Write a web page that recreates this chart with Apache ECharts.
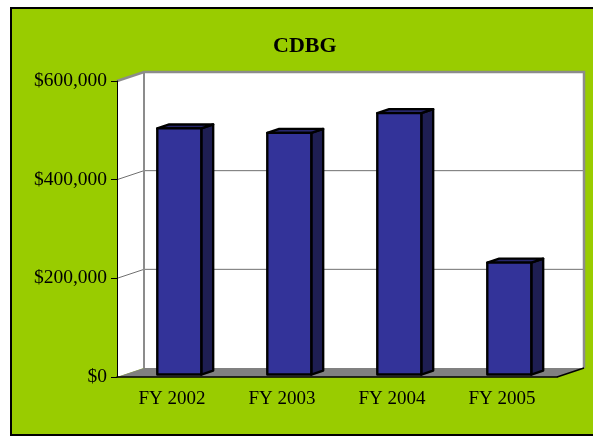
<!DOCTYPE html>
<html>
<head>
<meta charset="utf-8">
<script src="https://cdn.jsdelivr.net/npm/echarts@6/dist/echarts.min.js"></script>
<style>
    html, body {margin: 0; padding: 0; background: #ffffff;}
    #chart {width: 593px; height: 438px;}
</style>
</head>
<body>
<div id="chart"></div>
<script>
    // data
    var categories = ['FY 2002', 'FY 2003', 'FY 2004', 'FY 2005'];
    var funding = [499000, 490000, 530000, 227000];
    var tickValues = [0, 200000, 400000, 600000];

    // 3d look: depth of the walls and where the bars sit in it
    var DX = 27, DY = -9;
    var BAR_FRONT = 0.27, BAR_BACK = 0.71;
    var SERIF = '"Liberation Serif", "Times New Roman", serif';

    var chart = echarts.init(document.getElementById('chart'));

    function renderWalls(params, api) {
        var cs = params.coordSys;
        var x0 = cs.x, x1 = cs.x + cs.width;
        var yTop = api.coord([0, tickValues[tickValues.length - 1]])[1];
        var yBot = api.coord([0, 0])[1];
        var children = [];
        // back wall
        children.push({
            type: 'polygon',
            shape: {points: [[x0 + DX, yTop + DY], [x1 + DX, yTop + DY], [x1 + DX, yBot + DY], [x0 + DX, yBot + DY]]},
            style: {fill: '#ffffff', stroke: null}
        });
        // left wall
        children.push({
            type: 'polygon',
            shape: {points: [[x0, yTop], [x0 + DX, yTop + DY], [x0 + DX, yBot + DY], [x0, yBot]]},
            style: {fill: '#ffffff', stroke: null}
        });
        // grid lines on both walls
        tickValues.slice(1, -1).forEach(function (v) {
            var y = api.coord([0, v])[1];
            children.push({
                type: 'polyline',
                shape: {points: [[x0, y], [x0 + DX, y + DY], [x1 + DX, y + DY]]},
                style: {stroke: '#707070', lineWidth: 1, fill: null}
            });
        });
        // wall edges
        children.push({
            type: 'polyline',
            shape: {points: [[x0, yTop], [x0 + DX, yTop + DY], [x1 + DX, yTop + DY], [x1 + DX, yBot + DY]]},
            style: {stroke: '#8c8c8c', lineWidth: 2.5, fill: null}
        });
        children.push({
            type: 'line',
            shape: {x1: x0 + DX, y1: yTop + DY, x2: x0 + DX, y2: yBot + DY},
            style: {stroke: '#8c8c8c', lineWidth: 2}
        });
        // floor
        children.push({
            type: 'polygon',
            shape: {points: [[x0, yBot], [x0 + DX, yBot + DY], [x1 + DX, yBot + DY], [x1, yBot]]},
            style: {fill: '#808080', stroke: null}
        });
        children.push({
            type: 'line',
            shape: {x1: x1, y1: yBot, x2: x1 + DX, y2: yBot + DY},
            style: {stroke: '#000000', lineWidth: 1.5}
        });
        return {type: 'group', children: children};
    }

    function renderBar(params, api) {
        var base = api.coord([api.value(0), 0]);
        var top = api.coord([api.value(0), api.value(1)]);
        var w = api.size([1, 0])[0] * 0.4;
        var fx = base[0] - w / 2 + DX * BAR_FRONT;
        var fyB = base[1] + DY * BAR_FRONT;
        var fyT = top[1] + DY * BAR_FRONT;
        var ddx = DX * (BAR_BACK - BAR_FRONT);
        var ddy = DY * (BAR_BACK - BAR_FRONT);
        var edge = {stroke: '#000000', lineWidth: 2.4, lineJoin: 'round'};
        return {
            type: 'group',
            children: [
                {
                    type: 'polygon',
                    shape: {points: [[fx + w, fyT], [fx + w + ddx, fyT + ddy], [fx + w + ddx, fyB + ddy], [fx + w, fyB]]},
                    style: Object.assign({fill: '#1e1e52'}, edge)
                },
                {
                    type: 'polygon',
                    shape: {points: [[fx, fyT], [fx + ddx, fyT + ddy], [fx + w + ddx, fyT + ddy], [fx + w, fyT]]},
                    style: Object.assign({fill: '#28286e'}, edge)
                },
                {
                    type: 'rect',
                    shape: {x: fx, y: fyT, width: w, height: fyB - fyT},
                    style: Object.assign({fill: '#333399'}, edge)
                }
            ]
        };
    }

    var option = {
        animation: false,
        backgroundColor: '#ffffff',
        graphic: [{
            type: 'rect',
            z: -10,
            shape: {x: 11, y: 8, width: 600, height: 427},
            style: {fill: '#99cc00', stroke: '#000000', lineWidth: 2}
        }],
        title: {
            text: 'CDBG',
            left: 268,
            top: 30,
            textStyle: {fontFamily: SERIF, fontWeight: 'bold', fontSize: 22, color: '#000000'}
        },
        grid: {left: 117, right: 36, top: 81, bottom: 61, containLabel: false},
        xAxis: {
            type: 'category',
            data: categories,
            axisLine: {show: true, lineStyle: {color: '#000000', width: 1.5}},
            axisTick: {show: false},
            axisLabel: {fontFamily: SERIF, fontSize: 19, color: '#000000', margin: 13},
            splitLine: {show: false},
            z: 5
        },
        yAxis: {
            type: 'value',
            min: 0,
            max: 600000,
            interval: 200000,
            axisLine: {show: true, lineStyle: {color: '#000000', width: 1}},
            axisTick: {show: true, length: 6, lineStyle: {color: '#000000'}},
            axisLabel: {
                fontFamily: SERIF, fontSize: 19.5, color: '#000000', margin: 10,
                formatter: function (v) { return '$' + v.toLocaleString('en-US'); }
            },
            splitLine: {show: false},
            z: 5
        },
        series: [
            {
                type: 'custom',
                name: 'walls',
                renderItem: renderWalls,
                data: [[0, 0]],
                z: 1,
                silent: true
            },
            {
                type: 'custom',
                name: 'CDBG',
                renderItem: renderBar,
                data: funding.map(function (v, i) { return [i, v]; }),
                z: 2
            }
        ]
    };

    chart.setOption(option);
</script>
</body>
</html>
